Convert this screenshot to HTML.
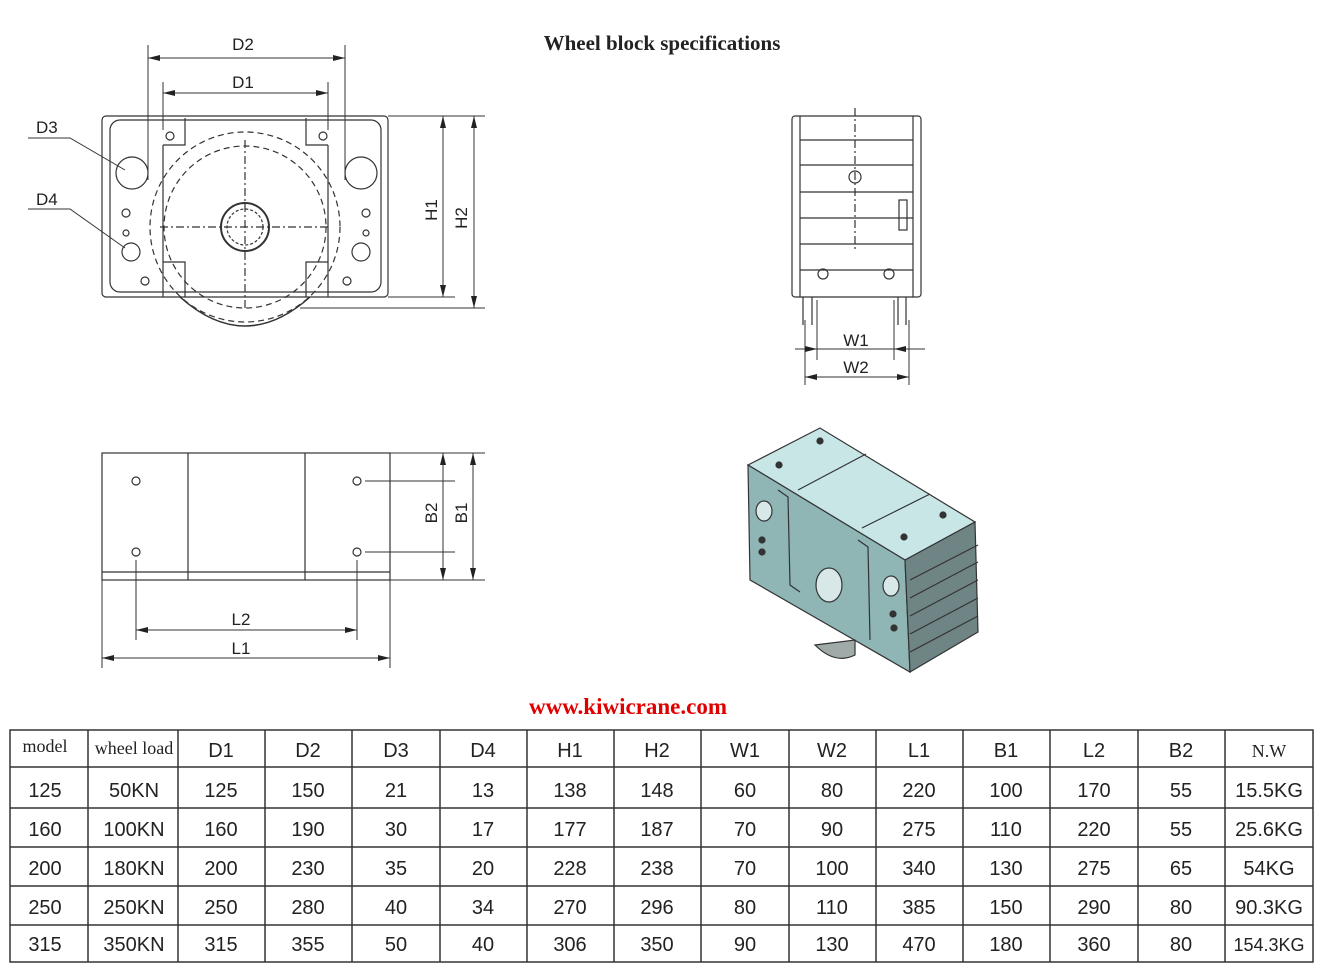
<!DOCTYPE html>
<html><head><meta charset="utf-8"><style>
html,body{margin:0;padding:0;background:#fff;}
svg{display:block;}
.dim{font-family:"Liberation Sans",sans-serif;font-size:17px;fill:#222;}
</style></head><body>
<svg width="1322" height="970" viewBox="0 0 1322 970" xmlns="http://www.w3.org/2000/svg">
<defs>
<marker id="a" markerWidth="12" markerHeight="6" refX="12" refY="3" orient="auto-start-reverse" markerUnits="userSpaceOnUse"><path d="M0,0L12,3L0,6z" fill="#222"/></marker>
</defs>
<text x="662" y="50" text-anchor="middle" font-family="Liberation Serif,serif" font-weight="bold" font-size="21" fill="#222">Wheel block specifications</text>

<!-- FRONT VIEW -->
<g stroke="#333" fill="none" stroke-width="1.2">
<rect x="102" y="116" width="286" height="181" rx="4"/>
<rect x="110" y="120" width="271" height="172" rx="10"/>
<path d="M163 145 L163 297 M328 145 L328 297 M163 145 L185 145 L185 118 M328 145 L306 145 L306 118 M163 262 L185 262 L185 297 M328 262 L306 262 L306 297"/>
<circle cx="245" cy="227" r="95" stroke-dasharray="6 4"/>
<circle cx="245" cy="227" r="81" stroke-dasharray="6 4"/>
<path d="M180 297 Q245 355 310 297" stroke-width="1.5"/>
<circle cx="245" cy="227" r="24" stroke-width="2"/>
<circle cx="245" cy="227" r="18" stroke-dasharray="3 2"/>
<line x1="245" y1="140" x2="245" y2="310" stroke-dasharray="8 3 2 3"/>
<line x1="160" y1="227" x2="330" y2="227" stroke-dasharray="8 3 2 3"/>
<circle cx="132" cy="173" r="16"/><circle cx="361" cy="173" r="16"/>
<circle cx="131" cy="252" r="9"/><circle cx="361" cy="252" r="9"/>
<circle cx="126" cy="213" r="4"/><circle cx="366" cy="213" r="4"/>
<circle cx="126" cy="233" r="3"/><circle cx="366" cy="233" r="3"/>
<circle cx="170" cy="136" r="4"/><circle cx="323" cy="136" r="4"/>
<circle cx="145" cy="281" r="4"/><circle cx="347" cy="281" r="4"/>
<line x1="148" y1="45" x2="148" y2="180" stroke-width="1"/><line x1="345" y1="45" x2="345" y2="180" stroke-width="1"/>
<line x1="148" y1="58" x2="345" y2="58" marker-start="url(#a)" marker-end="url(#a)" stroke-width="1"/>
<line x1="163" y1="82" x2="163" y2="130" stroke-width="1"/><line x1="328" y1="82" x2="328" y2="130" stroke-width="1"/>
<line x1="163" y1="93" x2="328" y2="93" marker-start="url(#a)" marker-end="url(#a)" stroke-width="1"/>
<line x1="388" y1="116" x2="485" y2="116" stroke-width="1"/>
<line x1="388" y1="297" x2="455" y2="297" stroke-width="1"/>
<line x1="300" y1="308" x2="485" y2="308" stroke-width="1"/>
<line x1="443" y1="116" x2="443" y2="297" marker-start="url(#a)" marker-end="url(#a)" stroke-width="1"/>
<line x1="474" y1="116" x2="474" y2="308" marker-start="url(#a)" marker-end="url(#a)" stroke-width="1"/>
<polyline points="28,138 70,138 125,170" stroke-width="1"/>
<polyline points="28,209 70,209 125,248" stroke-width="1"/>
</g>
<text class="dim" x="243" y="50" text-anchor="middle">D2</text>
<text class="dim" x="243" y="88" text-anchor="middle">D1</text>
<text class="dim" x="36" y="133">D3</text>
<text class="dim" x="36" y="205">D4</text>
<text class="dim" transform="translate(437,210) rotate(-90)" text-anchor="middle">H1</text>
<text class="dim" transform="translate(467,218) rotate(-90)" text-anchor="middle">H2</text>

<!-- SIDE VIEW -->
<g stroke="#333" fill="none" stroke-width="1.2">
<rect x="792" y="116" width="129" height="181" rx="3"/>
<line x1="800" y1="116" x2="800" y2="297"/><line x1="913" y1="116" x2="913" y2="297"/>
<line x1="800" y1="140" x2="913" y2="140"/><line x1="800" y1="165" x2="913" y2="165"/>
<line x1="800" y1="192" x2="913" y2="192"/><line x1="800" y1="218" x2="913" y2="218"/>
<line x1="800" y1="244" x2="913" y2="244"/><line x1="800" y1="270" x2="913" y2="270"/>
<rect x="899" y="200" width="8" height="30"/>
<circle cx="855" cy="177" r="6"/><circle cx="823" cy="274" r="5"/><circle cx="889" cy="274" r="5"/>
<line x1="855" y1="108" x2="855" y2="250" stroke-dasharray="8 3 2 3"/>
<path d="M803 297 L803 325 M812 297 L812 325 M898 297 L898 325 M906 297 L906 325"/>
<line x1="817" y1="300" x2="817" y2="360" stroke-width="1"/><line x1="894" y1="300" x2="894" y2="360" stroke-width="1"/>
<line x1="805" y1="320" x2="805" y2="385" stroke-width="1"/><line x1="909" y1="320" x2="909" y2="385" stroke-width="1"/>
<line x1="795" y1="349" x2="817" y2="349" marker-end="url(#a)" stroke-width="1"/>
<line x1="817" y1="349" x2="894" y2="349" stroke-width="1"/>
<line x1="925" y1="349" x2="894" y2="349" marker-end="url(#a)" stroke-width="1"/>
<line x1="805" y1="377" x2="909" y2="377" marker-start="url(#a)" marker-end="url(#a)" stroke-width="1"/>
</g>
<text class="dim" x="856" y="346" text-anchor="middle">W1</text>
<text class="dim" x="856" y="373" text-anchor="middle">W2</text>

<!-- BOTTOM VIEW -->
<g stroke="#333" fill="none" stroke-width="1.2">
<rect x="102" y="453" width="288" height="127"/>
<line x1="102" y1="572" x2="390" y2="572"/>
<line x1="188" y1="453" x2="188" y2="580"/><line x1="305" y1="453" x2="305" y2="580"/>
<circle cx="136" cy="481" r="4"/><circle cx="357" cy="481" r="4"/>
<circle cx="136" cy="552" r="4"/><circle cx="357" cy="552" r="4"/>
<line x1="136" y1="560" x2="136" y2="640" stroke-width="1"/><line x1="357" y1="560" x2="357" y2="640" stroke-width="1"/>
<line x1="102" y1="580" x2="102" y2="668" stroke-width="1"/><line x1="390" y1="580" x2="390" y2="668" stroke-width="1"/>
<line x1="136" y1="630" x2="357" y2="630" marker-start="url(#a)" marker-end="url(#a)" stroke-width="1"/>
<line x1="102" y1="658" x2="390" y2="658" marker-start="url(#a)" marker-end="url(#a)" stroke-width="1"/>
<line x1="390" y1="453" x2="485" y2="453" stroke-width="1"/><line x1="390" y1="580" x2="485" y2="580" stroke-width="1"/>
<line x1="365" y1="481" x2="455" y2="481" stroke-width="1"/><line x1="365" y1="552" x2="455" y2="552" stroke-width="1"/>
<line x1="443" y1="453" x2="443" y2="580" marker-start="url(#a)" marker-end="url(#a)" stroke-width="1"/>
<line x1="473" y1="453" x2="473" y2="580" marker-start="url(#a)" marker-end="url(#a)" stroke-width="1"/>
</g>
<text class="dim" x="241" y="625" text-anchor="middle">L2</text>
<text class="dim" x="241" y="654" text-anchor="middle">L1</text>
<text class="dim" transform="translate(437,513) rotate(-90)" text-anchor="middle">B2</text>
<text class="dim" transform="translate(467,513) rotate(-90)" text-anchor="middle">B1</text>

<!-- 3D -->
<g stroke="#333" stroke-width="1.2">
<polygon points="748,465 820,428 975,522 905,560" fill="#c8e6e6"/>
<polygon points="748,465 905,560 910,672 750,580" fill="#8fb5b5"/>
<polygon points="905,560 975,522 978,632 910,672" fill="#6f8484"/>
<line x1="798" y1="490" x2="866" y2="454"/><line x1="862" y1="528" x2="930" y2="494"/>
<path d="M778 490 L788 497 L790 585 L800 592" fill="none"/>
<path d="M858 540 L868 547 L870 640" fill="none"/>
<path d="M910 580 L978 545 M910 598 L978 562 M910 616 L978 580 M910 634 L978 598 M910 652 L978 616" fill="none"/>
<ellipse cx="829" cy="585" rx="13" ry="17" fill="#d8e8e8"/>
<ellipse cx="764" cy="511" rx="8" ry="10" fill="#d8e8e8"/>
<ellipse cx="891" cy="586" rx="8" ry="10" fill="#d8e8e8"/>
<circle cx="762" cy="540" r="3" fill="#333"/><circle cx="762" cy="552" r="3" fill="#333"/>
<circle cx="893" cy="614" r="3" fill="#333"/><circle cx="894" cy="628" r="3" fill="#333"/>
<circle cx="820" cy="441" r="3" fill="#333"/><circle cx="779" cy="465" r="3" fill="#333"/>
<circle cx="943" cy="515" r="3" fill="#333"/><circle cx="904" cy="537" r="3" fill="#333"/>
<path d="M815 645 Q835 665 855 655 L855 640 Z" fill="#a0aaa8"/>
</g>

<text x="628" y="714" text-anchor="middle" font-family="Liberation Serif,serif" font-weight="bold" font-size="23" fill="#e00000">www.kiwicrane.com</text>

<!-- TABLE -->
<g stroke="#333" stroke-width="1.5" fill="none">
<rect x="10" y="730" width="1303" height="232"/>
<line x1="10" y1="767" x2="1313" y2="767"/>
<line x1="10" y1="808" x2="1313" y2="808"/>
<line x1="10" y1="847" x2="1313" y2="847"/>
<line x1="10" y1="886" x2="1313" y2="886"/>
<line x1="10" y1="925" x2="1313" y2="925"/>
<line x1="88" y1="730" x2="88" y2="962"/><line x1="178" y1="730" x2="178" y2="962"/>
<line x1="265" y1="730" x2="265" y2="962"/><line x1="352" y1="730" x2="352" y2="962"/>
<line x1="440" y1="730" x2="440" y2="962"/><line x1="527" y1="730" x2="527" y2="962"/>
<line x1="614" y1="730" x2="614" y2="962"/><line x1="701" y1="730" x2="701" y2="962"/>
<line x1="789" y1="730" x2="789" y2="962"/><line x1="876" y1="730" x2="876" y2="962"/>
<line x1="963" y1="730" x2="963" y2="962"/><line x1="1050" y1="730" x2="1050" y2="962"/>
<line x1="1138" y1="730" x2="1138" y2="962"/><line x1="1225" y1="730" x2="1225" y2="962"/>
</g>
<g font-family="Liberation Sans,sans-serif" font-size="20" fill="#222" text-anchor="middle">
<text x="45" y="752" font-family="Liberation Serif,serif" font-size="18">model</text>
<text x="134" y="754" font-family="Liberation Serif,serif" font-size="18">wheel load</text>
<text x="221" y="757">D1</text><text x="308" y="757">D2</text><text x="396" y="757">D3</text><text x="483" y="757">D4</text>
<text x="570" y="757">H1</text><text x="657" y="757">H2</text><text x="745" y="757">W1</text><text x="832" y="757">W2</text>
<text x="919" y="757">L1</text><text x="1006" y="757">B1</text><text x="1094" y="757">L2</text><text x="1181" y="757">B2</text>
<text x="1269" y="757" font-family="Liberation Serif,serif" font-size="18">N.W</text>

<text x="45" y="797">125</text><text x="134" y="797">50KN</text><text x="221" y="797">125</text><text x="308" y="797">150</text><text x="396" y="797">21</text><text x="483" y="797">13</text><text x="570" y="797">138</text><text x="657" y="797">148</text><text x="745" y="797">60</text><text x="832" y="797">80</text><text x="919" y="797">220</text><text x="1006" y="797">100</text><text x="1094" y="797">170</text><text x="1181" y="797">55</text><text x="1269" y="797">15.5KG</text>

<text x="45" y="836">160</text><text x="134" y="836">100KN</text><text x="221" y="836">160</text><text x="308" y="836">190</text><text x="396" y="836">30</text><text x="483" y="836">17</text><text x="570" y="836">177</text><text x="657" y="836">187</text><text x="745" y="836">70</text><text x="832" y="836">90</text><text x="919" y="836">275</text><text x="1006" y="836">110</text><text x="1094" y="836">220</text><text x="1181" y="836">55</text><text x="1269" y="836">25.6KG</text>

<text x="45" y="875">200</text><text x="134" y="875">180KN</text><text x="221" y="875">200</text><text x="308" y="875">230</text><text x="396" y="875">35</text><text x="483" y="875">20</text><text x="570" y="875">228</text><text x="657" y="875">238</text><text x="745" y="875">70</text><text x="832" y="875">100</text><text x="919" y="875">340</text><text x="1006" y="875">130</text><text x="1094" y="875">275</text><text x="1181" y="875">65</text><text x="1269" y="875">54KG</text>

<text x="45" y="914">250</text><text x="134" y="914">250KN</text><text x="221" y="914">250</text><text x="308" y="914">280</text><text x="396" y="914">40</text><text x="483" y="914">34</text><text x="570" y="914">270</text><text x="657" y="914">296</text><text x="745" y="914">80</text><text x="832" y="914">110</text><text x="919" y="914">385</text><text x="1006" y="914">150</text><text x="1094" y="914">290</text><text x="1181" y="914">80</text><text x="1269" y="914">90.3KG</text>

<text x="45" y="951">315</text><text x="134" y="951">350KN</text><text x="221" y="951">315</text><text x="308" y="951">355</text><text x="396" y="951">50</text><text x="483" y="951">40</text><text x="570" y="951">306</text><text x="657" y="951">350</text><text x="745" y="951">90</text><text x="832" y="951">130</text><text x="919" y="951">470</text><text x="1006" y="951">180</text><text x="1094" y="951">360</text><text x="1181" y="951">80</text><text x="1269" y="951" font-size="18">154.3KG</text>
</g>
</svg>
</body></html>
